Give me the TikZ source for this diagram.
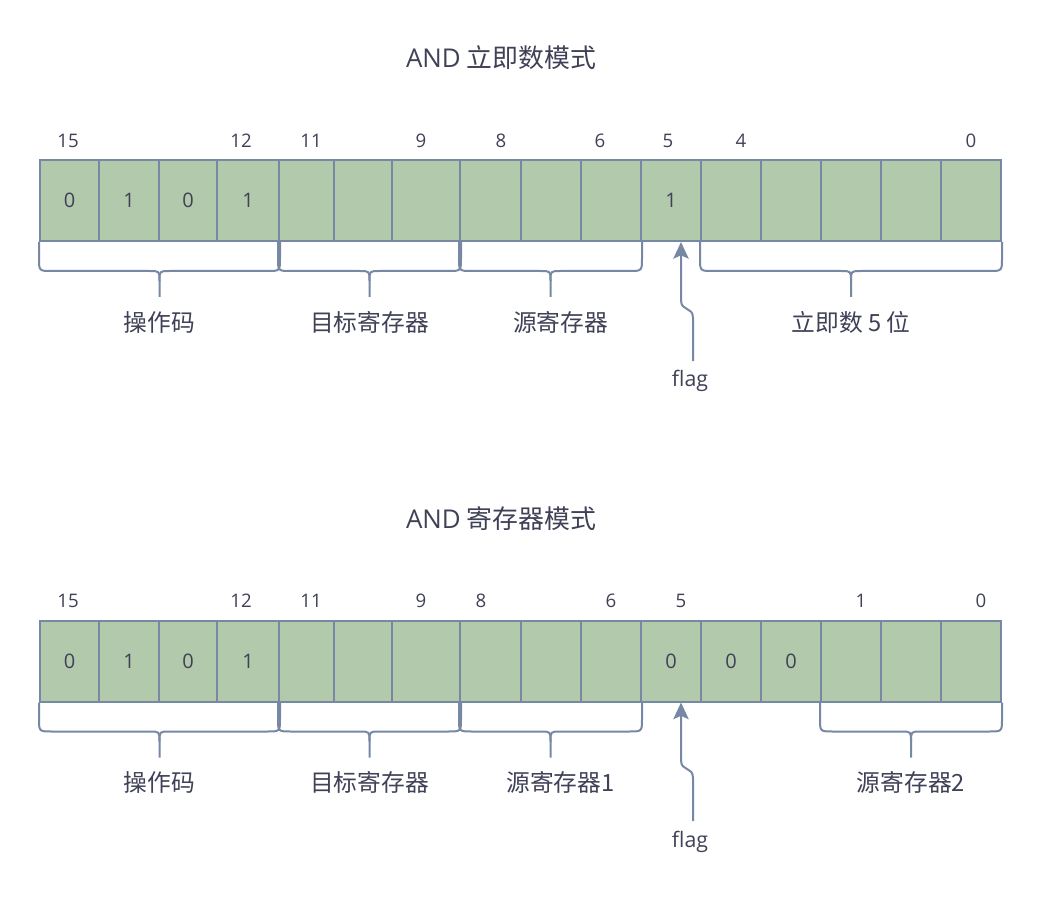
\documentclass[tikz,border=0pt]{standalone}
\usepackage{fontspec}
\setmainfont{Noto Sans CJK SC}
\newfontfamily\hand{Open Sans}
\usetikzlibrary{calc,arrows.meta}
\definecolor{stroke}{HTML}{7788A5}
\definecolor{cellfill}{HTML}{B2C9AB}
\definecolor{ink}{HTML}{3F4156}
\tikzset{
  cell/.style={draw=stroke, fill=cellfill, line width=1.5pt, minimum height=60.75pt, inner sep=0pt, font=\hand\fontsize{15}{15}\selectfont, text=ink},
  bitnum/.style={font=\hand\fontsize{14}{14}\selectfont, text=ink, inner sep=0pt},
  flaglab/.style={font=\hand\fontsize{16}{16}\selectfont, text=ink, inner sep=0pt},
  lab/.style={font=\fontsize{17.8}{17.8}\selectfont, text=ink, inner sep=0pt},
  ttl/.style={font=\fontsize{19.4}{19.4}\selectfont, text=ink, inner sep=0pt},
  brace/.style={draw=stroke, line width=1.5pt, line join=round},
  arr/.style={draw=stroke, line width=1.5pt, -{Stealth[length=12.5pt,width=11.5pt,inset=2.5pt]}},
}
% #1 left cell, #2 right cell, #3 tip name, #4 label, #5 label x shift
\newcommand\mybrace[5]{%
  \coordinate (#3) at ($(#1.south west)!0.5!(#2.south east)$);
  \draw[brace] (#1.south west) -- ($(#1.south west)+(0,16)$)
    .. controls ($(#1.south west)+(0,29)$) .. ($(#1.south west)+(13,29)$)
    -- ($(#3)+(-10,29)$) .. controls ($(#3)+(0,29)$) .. ($(#3)+(0,39)$)
    -- ($(#3)+(0,55)$);
  \draw[brace] (#2.south east) -- ($(#2.south east)+(0,16)$)
    .. controls ($(#2.south east)+(0,29)$) .. ($(#2.south east)+(-13,29)$)
    -- ($(#3)+(10,29)$) .. controls ($(#3)+(0,29)$) .. ($(#3)+(0,39)$);
  \node[lab] (#3l) at ($(#3)+(#5,80)$) {#4};
}
\begin{document}
\begin{tikzpicture}[x=0.75pt,y=-0.75pt]
\useasboundingbox (0,0) rectangle (1042,902);

% titles
\node[ttl] (t1) at (501,58) {{\hand AND}\ 立即数模式};
\node[ttl] (t2) at (501,519) {{\hand AND}\ 寄存器模式};

% row 1 cells
\foreach \a/\b/\t [count=\i] in {40/99/0,99/159/1,159/217/0,217/279/1,279/334/,334/392/,392/460/,460/521/,521/581/,581/641/,641/701/1,701/761/,761/821/,821/881/,881/941/,941/1001/} {
  \pgfmathsetmacro\w{(\b-\a)*0.75}
  \node[cell, minimum width=\w pt] (r1c\i) at ({(\a+\b)/2},200.5) {\t};
}
% row 2 cells
\foreach \a/\b/\t [count=\i] in {40/99/0,99/159/1,159/217/0,217/279/1,279/334/,334/392/,392/460/,460/521/,521/581/,581/641/,641/701/0,701/761/0,761/821/0,821/881/,881/941/,941/1001/} {
  \pgfmathsetmacro\w{(\b-\a)*0.75}
  \node[cell, minimum width=\w pt] (r2c\i) at ({(\a+\b)/2},661) {\t};
}

% bit numbers row 1
\foreach \x/\t [count=\i] in {68/15,241/12,311/11,421/9,501/8,600/6,668/5,741/4,971/0} {
  \node[bitnum] (n1x\i) at (\x,141) {\t};
}
% bit numbers row 2
\foreach \x/\t [count=\i] in {68/15,241/12,311/11,421/9,481/8,611/6,681/5,861/1,981/0} {
  \node[bitnum] (n2x\i) at (\x,601) {\t};
}

% braces row 1
\mybrace{r1c1}{r1c4}{bra}{操作码}{0}
\mybrace{r1c5}{r1c7}{brb}{目标寄存器}{0}
\mybrace{r1c8}{r1c10}{brc}{源寄存器}{10}
\mybrace{r1c12}{r1c16}{brd}{立即数 5 位}{0}
% braces row 2
\mybrace{r2c1}{r2c4}{bsa}{操作码}{0}
\mybrace{r2c5}{r2c7}{bsb}{目标寄存器}{0}
\mybrace{r2c8}{r2c10}{bsc}{源寄存器1}{10}
\mybrace{r2c14}{r2c16}{bsd}{源寄存器2}{0}

% flag arrows
\node[flaglab] (flag1) at (690,381) {flag};
\coordinate (f1s) at (693,361);
\draw[arr] (f1s) -- (693,318) .. controls (693,306) and (681,312) .. (681,300) -- ($(r1c11.south)+(10,0)$);

\node[flaglab] (flag2) at (690,842) {flag};
\coordinate (f2s) at (693,821);
\draw[arr] (f2s) -- (693,778) .. controls (693,766) and (681,772) .. (681,760) -- ($(r2c11.south)+(10,0)$);
\end{tikzpicture}
\end{document}
